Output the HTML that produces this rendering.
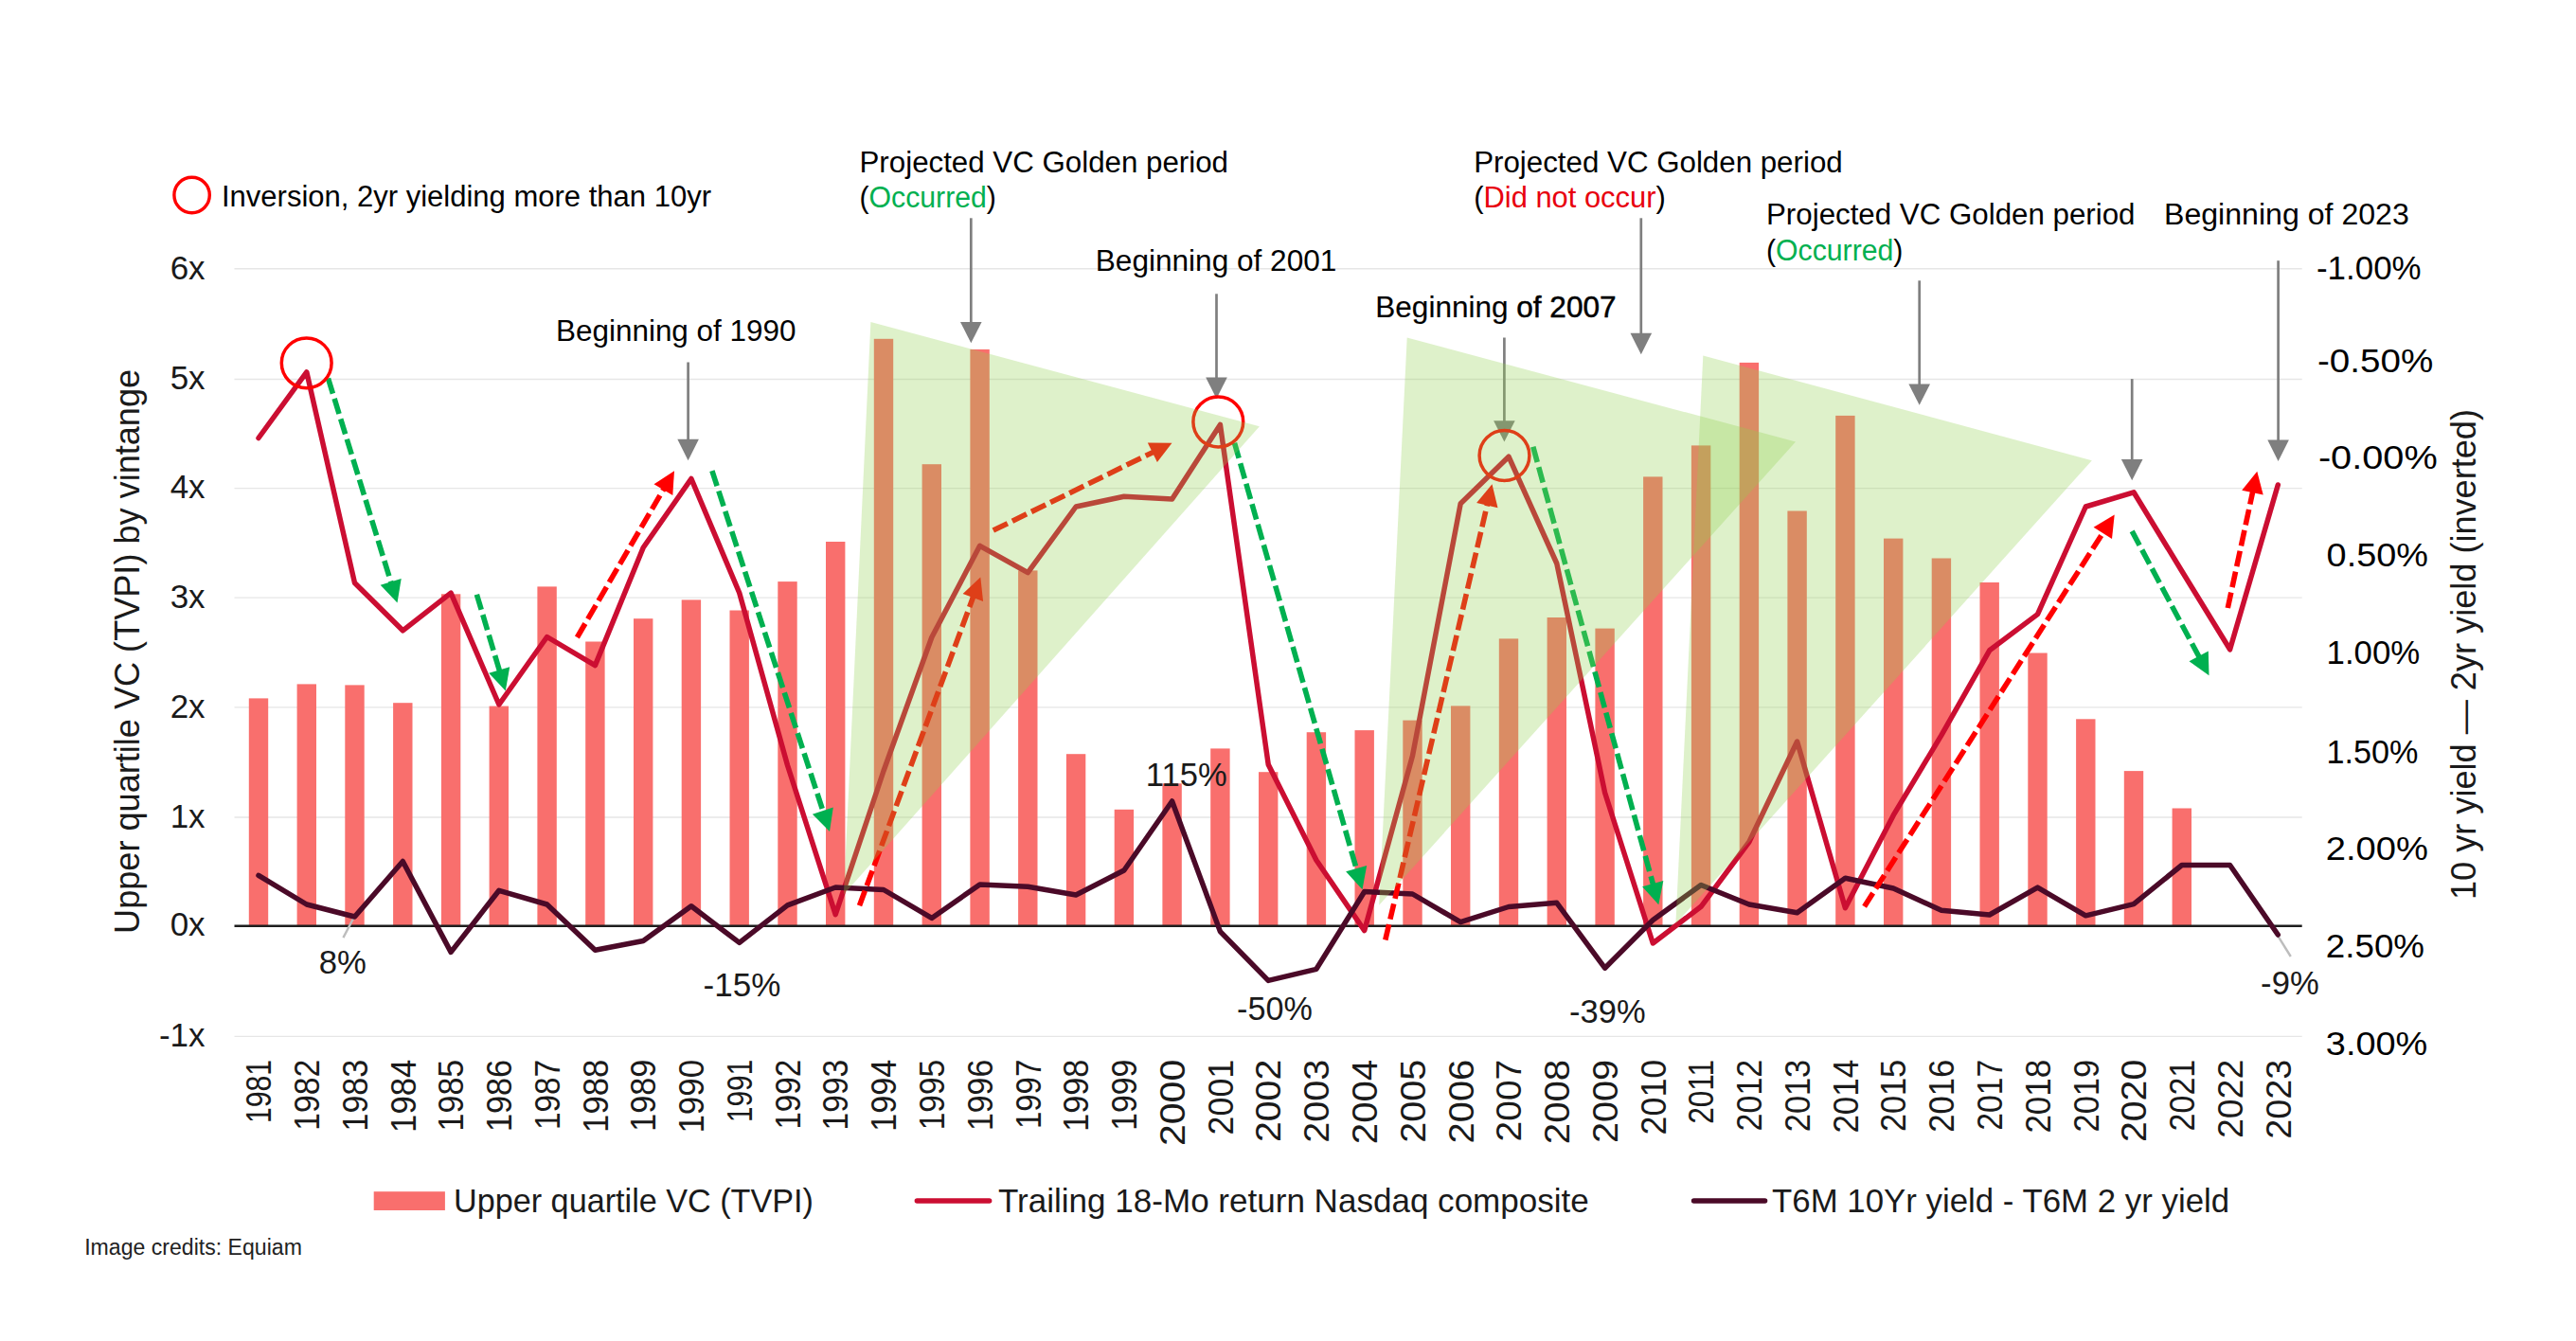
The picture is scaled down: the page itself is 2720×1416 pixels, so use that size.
<!DOCTYPE html>
<html lang="en"><head><meta charset="utf-8"><title>VC vintage returns vs yield curve</title>
<style>html,body{margin:0;padding:0;background:#fff}body{width:2720px;height:1416px;overflow:hidden}svg{display:block}text{font-family:"Liberation Sans",sans-serif}</style></head><body>
<svg width="2720" height="1416" viewBox="0 0 2720 1416">
<rect width="2720" height="1416" fill="#fff"/>
<g stroke="#E6E6E6" stroke-width="1.4"><line x1="247.5" y1="283.8" x2="2430.7" y2="283.8"/><line x1="247.5" y1="400.5" x2="2430.7" y2="400.5"/><line x1="247.5" y1="515.6" x2="2430.7" y2="515.6"/><line x1="247.5" y1="631.1" x2="2430.7" y2="631.1"/><line x1="247.5" y1="746.9" x2="2430.7" y2="746.9"/><line x1="247.5" y1="863" x2="2430.7" y2="863"/><line x1="247.5" y1="1094.4" x2="2430.7" y2="1094.4"/></g>
<g fill="#F96F6D"><rect x="262.8" y="737.4" width="20.4" height="240.3"/><rect x="313.6" y="722.4" width="20.4" height="255.3"/><rect x="364.3" y="723.4" width="20.4" height="254.3"/><rect x="415.1" y="742.2" width="20.4" height="235.5"/><rect x="465.9" y="627.3" width="20.4" height="350.4"/><rect x="516.6" y="745.6" width="20.4" height="232.1"/><rect x="567.4" y="619.4" width="20.4" height="358.3"/><rect x="618.2" y="677.5" width="20.4" height="300.2"/><rect x="669" y="653.2" width="20.4" height="324.5"/><rect x="719.7" y="633.4" width="20.4" height="344.3"/><rect x="770.5" y="644.5" width="20.4" height="333.2"/><rect x="821.3" y="614.1" width="20.4" height="363.6"/><rect x="872" y="572" width="20.4" height="405.7"/><rect x="922.8" y="357.8" width="20.4" height="619.9"/><rect x="973.6" y="490.2" width="20.4" height="487.5"/><rect x="1024.4" y="368.9" width="20.4" height="608.8"/><rect x="1075.1" y="602.4" width="20.4" height="375.3"/><rect x="1125.9" y="796.2" width="20.4" height="181.5"/><rect x="1176.7" y="854.8" width="20.4" height="122.9"/><rect x="1227.4" y="827.3" width="20.4" height="150.4"/><rect x="1278.2" y="790.4" width="20.4" height="187.3"/><rect x="1329" y="815.2" width="20.4" height="162.5"/><rect x="1379.7" y="773.2" width="20.4" height="204.5"/><rect x="1430.5" y="771.1" width="20.4" height="206.6"/><rect x="1481.3" y="760.6" width="20.4" height="217.1"/><rect x="1532" y="745.4" width="20.4" height="232.3"/><rect x="1582.8" y="674.4" width="20.4" height="303.3"/><rect x="1633.6" y="652" width="20.4" height="325.7"/><rect x="1684.4" y="663.6" width="20.4" height="314.1"/><rect x="1735.1" y="503.4" width="20.4" height="474.3"/><rect x="1785.9" y="470.4" width="20.4" height="507.3"/><rect x="1836.7" y="382.9" width="20.4" height="594.8"/><rect x="1887.4" y="539.5" width="20.4" height="438.2"/><rect x="1938.2" y="438.9" width="20.4" height="538.8"/><rect x="1989" y="568.6" width="20.4" height="409.1"/><rect x="2039.7" y="589.5" width="20.4" height="388.2"/><rect x="2090.5" y="615" width="20.4" height="362.7"/><rect x="2141.3" y="689.5" width="20.4" height="288.2"/><rect x="2192.1" y="759.3" width="20.4" height="218.4"/><rect x="2242.8" y="814.1" width="20.4" height="163.6"/><rect x="2293.6" y="853.5" width="20.4" height="124.2"/></g>
<line x1="247.5" y1="977.7" x2="2430.7" y2="977.7" stroke="#1E1E1E" stroke-width="2.4"/>
<polyline points="273,462.5 323.8,392.9 374.5,615.5 425.3,665.8 476.1,626.2 526.9,744 577.6,672.5 628.4,702.6 679.2,578.3 729.9,505.5 780.7,626 831.5,808 882.2,965.7 933,814 983.8,673 1034.6,576.3 1085.3,604.7 1136.1,535 1186.9,524.2 1237.6,527 1288.4,448.4 1339.2,807.2 1389.9,908.3 1440.7,982.6 1491.5,798 1542.2,531.8 1593,482.2 1643.8,595 1694.6,837 1745.3,996 1796.1,957.3 1846.9,889 1897.6,783 1948.4,958.8 1999.2,860.9 2049.9,776.4 2100.7,686.8 2151.5,648.6 2202.3,535 2253,519.8 2303.8,603 2354.6,685.8 2405.3,512" fill="none" stroke="#CB0E32" stroke-width="5.5" stroke-linejoin="round" stroke-linecap="round"/>
<g stroke="#BDBDBD" stroke-width="2.4"><line x1="374.6" y1="967" x2="362.4" y2="990.1"/><line x1="2405.6" y1="988.9" x2="2418.8" y2="1010"/></g>
<polyline points="273,924.3 323.8,955 374.5,968 425.3,909.5 476.1,1005.4 526.9,940.3 577.6,955 628.4,1003.3 679.2,993.5 729.9,956.8 780.7,995.4 831.5,955.8 882.2,937 933,939.5 983.8,969.4 1034.6,934 1085.3,936.3 1136.1,945 1186.9,919 1237.6,846 1288.4,983.6 1339.2,1035.4 1389.9,1023.3 1440.7,941.5 1491.5,944 1542.2,973.7 1593,957.5 1643.8,953.3 1694.6,1022.2 1745.3,971.5 1796.1,934.5 1846.9,955 1897.6,963.8 1948.4,927.3 1999.2,938 2049.9,961.2 2100.7,966 2151.5,937.1 2202.3,966.8 2253,954.6 2303.8,913.5 2354.6,913.5 2405.3,987" fill="none" stroke="#4B0A28" stroke-width="5.5" stroke-linejoin="round" stroke-linecap="round"/>
<line x1="346.5" y1="399.5" x2="413.3" y2="616.3" stroke="#00B050" stroke-width="5.6" stroke-dasharray="16.8 5.6"/><polygon points="419.5,636.4 401.7,617.8 423.7,611" fill="#00B050"/>
<line x1="503.4" y1="627.7" x2="527.8" y2="709.4" stroke="#00B050" stroke-width="5.6" stroke-dasharray="16.8 5.6"/><polygon points="533.8,729.5 516.2,710.8 538.2,704.2" fill="#00B050"/>
<line x1="751.9" y1="497.2" x2="869.5" y2="858" stroke="#00B050" stroke-width="5.6" stroke-dasharray="16.8 5.6"/><polygon points="876,878 857.9,859.7 879.8,852.6" fill="#00B050"/>
<line x1="1303.5" y1="467.7" x2="1432.7" y2="919" stroke="#00B050" stroke-width="5.6" stroke-dasharray="16.8 5.6"/><polygon points="1438.5,939.2 1421.1,920.3 1443.2,913.9" fill="#00B050"/>
<line x1="1618.8" y1="471.7" x2="1745.8" y2="935" stroke="#00B050" stroke-width="5.6" stroke-dasharray="16.8 5.6"/><polygon points="1751.3,955.3 1734.1,936.2 1756.3,930.1" fill="#00B050"/>
<line x1="2251.2" y1="560.9" x2="2322.6" y2="694.7" stroke="#00B050" stroke-width="5.6" stroke-dasharray="16.8 5.6"/><polygon points="2332.5,713.2 2311.5,698.3 2331.8,687.5" fill="#00B050"/>
<line x1="609.4" y1="673" x2="701.4" y2="515.3" stroke="#FF0000" stroke-width="5.6" stroke-dasharray="16.8 5.6"/><polygon points="712,497.2 710.3,522.9 690.5,511.3" fill="#FF0000"/>
<line x1="907.5" y1="956.2" x2="1028" y2="629.2" stroke="#FF0000" stroke-width="5.6" stroke-dasharray="16.8 5.6"/><polygon points="1035.3,609.5 1038.1,635.1 1016.6,627.1" fill="#FF0000"/>
<line x1="1048.8" y1="560.1" x2="1218.6" y2="476.9" stroke="#FF0000" stroke-width="5.6" stroke-dasharray="16.8 5.6"/><polygon points="1237.5,467.7 1221.9,488.1 1211.8,467.5" fill="#FF0000"/>
<line x1="1462.8" y1="992.5" x2="1570.7" y2="531.6" stroke="#FF0000" stroke-width="5.6" stroke-dasharray="16.8 5.6"/><polygon points="1575.5,511.2 1581.5,536.2 1559.1,531" fill="#FF0000"/>
<line x1="1968.6" y1="957.2" x2="2221.4" y2="561.2" stroke="#FF0000" stroke-width="5.6" stroke-dasharray="16.8 5.6"/><polygon points="2232.7,543.5 2230,569.1 2210.6,556.7" fill="#FF0000"/>
<line x1="2352.3" y1="642" x2="2378.9" y2="518.2" stroke="#FF0000" stroke-width="5.6" stroke-dasharray="16.8 5.6"/><polygon points="2383.3,497.7 2389.7,522.6 2367.2,517.8" fill="#FF0000"/>
<line x1="726.6" y1="382.5" x2="726.6" y2="466.2" stroke="#7F7F7F" stroke-width="2.7"/><polygon points="726.6,486.2 715.3,463.8 737.9,463.8" fill="#7F7F7F"/>
<line x1="1025.3" y1="230.3" x2="1025.3" y2="342.3" stroke="#7F7F7F" stroke-width="2.7"/><polygon points="1025.3,362.3 1014,339.9 1036.6,339.9" fill="#7F7F7F"/>
<line x1="1284.5" y1="310.3" x2="1284.5" y2="401" stroke="#7F7F7F" stroke-width="2.7"/><polygon points="1284.5,421 1273.2,398.6 1295.8,398.6" fill="#7F7F7F"/>
<line x1="1588.4" y1="356.5" x2="1588.4" y2="446.6" stroke="#7F7F7F" stroke-width="2.7"/><polygon points="1588.4,466.6 1577.1,444.2 1599.7,444.2" fill="#7F7F7F"/>
<line x1="1732.8" y1="230.3" x2="1732.8" y2="354.2" stroke="#7F7F7F" stroke-width="2.7"/><polygon points="1732.8,374.2 1721.5,351.8 1744.1,351.8" fill="#7F7F7F"/>
<line x1="2026.7" y1="296.3" x2="2026.7" y2="407.8" stroke="#7F7F7F" stroke-width="2.7"/><polygon points="2026.7,427.8 2015.4,405.4 2038,405.4" fill="#7F7F7F"/>
<line x1="2251.2" y1="400.1" x2="2251.2" y2="487.3" stroke="#7F7F7F" stroke-width="2.7"/><polygon points="2251.2,507.3 2239.9,484.9 2262.5,484.9" fill="#7F7F7F"/>
<line x1="2405.6" y1="275.2" x2="2405.6" y2="467" stroke="#7F7F7F" stroke-width="2.7"/><polygon points="2405.6,487 2394.3,464.6 2416.9,464.6" fill="#7F7F7F"/>
<circle cx="323.7" cy="383.3" r="26.4" fill="none" stroke="#FF0000" stroke-width="3.5"/><circle cx="1286.3" cy="445.5" r="26.4" fill="none" stroke="#FF0000" stroke-width="3.5"/><circle cx="1588.5" cy="481" r="26.4" fill="none" stroke="#FF0000" stroke-width="3.5"/>
<polygon points="919.4,339.9 1329.9,450.3 890.9,944.5" fill="#92D050" fill-opacity="0.3"/><polygon points="1485.7,356.5 1896,466.5 1456.2,955.8" fill="#92D050" fill-opacity="0.3"/><polygon points="1798.3,375.5 2208.8,486.2 1769.4,975.6" fill="#92D050" fill-opacity="0.3"/>
<circle cx="202.6" cy="206" r="18.7" fill="none" stroke="#FF0000" stroke-width="3.4"/>
<text x="234" y="218.4" font-size="31" fill="#000000" textLength="517" lengthAdjust="spacingAndGlyphs">Inversion, 2yr yielding more than 10yr</text>
<text x="587" y="360" font-size="31" fill="#000000" textLength="253.5" lengthAdjust="spacingAndGlyphs">Beginning of 1990</text>
<text x="1156.8" y="286.3" font-size="31" fill="#000000" textLength="254.5" lengthAdjust="spacingAndGlyphs">Beginning of 2001</text>
<text x="1452.3" y="335.4" font-size="31" fill="#000" stroke="#000" stroke-width="0.15" textLength="254.2" lengthAdjust="spacingAndGlyphs">Beginning <tspan stroke-width="0.5">of 2007</tspan></text>
<text x="2285" y="237.4" font-size="31" fill="#000000" textLength="258.8" lengthAdjust="spacingAndGlyphs">Beginning of 2023</text>
<text x="907.5" y="181.5" font-size="31" fill="#000000" textLength="389.5" lengthAdjust="spacingAndGlyphs">Projected VC Golden period</text><text x="907.5" y="218.7" font-size="31" fill="#000" textLength="144.4" lengthAdjust="spacingAndGlyphs">(<tspan fill="#00B050">Occurred</tspan>)</text>
<text x="1556.2" y="181.5" font-size="31" fill="#000000" textLength="389.5" lengthAdjust="spacingAndGlyphs">Projected VC Golden period</text><text x="1556.2" y="218.7" font-size="31" fill="#000" textLength="202.5" lengthAdjust="spacingAndGlyphs">(<tspan fill="#E8000E">Did not occur</tspan>)</text>
<text x="1865" y="237.4" font-size="31" fill="#000000" textLength="389.5" lengthAdjust="spacingAndGlyphs">Projected VC Golden period</text><text x="1865" y="274.6" font-size="31" fill="#000" textLength="144.4" lengthAdjust="spacingAndGlyphs">(<tspan fill="#00B050">Occurred</tspan>)</text>
<text x="336.8" y="1028" font-size="35" fill="#1A1A1A" textLength="50.2" lengthAdjust="spacingAndGlyphs">8%</text><text x="742.5" y="1052.2" font-size="35" fill="#1A1A1A" textLength="81.8" lengthAdjust="spacingAndGlyphs">-15%</text><text x="1209.8" y="830" font-size="35" fill="#1A1A1A" textLength="85.8" lengthAdjust="spacingAndGlyphs">115%</text><text x="1306.1" y="1077.4" font-size="35" fill="#1A1A1A" textLength="79.8" lengthAdjust="spacingAndGlyphs">-50%</text><text x="1657.1" y="1080" font-size="35" fill="#1A1A1A" textLength="80.5" lengthAdjust="spacingAndGlyphs">-39%</text><text x="2387.1" y="1049.6" font-size="35" fill="#1A1A1A" textLength="61.6" lengthAdjust="spacingAndGlyphs">-9%</text>
<text x="216.6" y="294.5" font-size="35" fill="#1A1A1A" text-anchor="end">6x</text><text x="216.6" y="411.2" font-size="35" fill="#1A1A1A" text-anchor="end">5x</text><text x="216.6" y="526.3" font-size="35" fill="#1A1A1A" text-anchor="end">4x</text><text x="216.6" y="641.8" font-size="35" fill="#1A1A1A" text-anchor="end">3x</text><text x="216.6" y="757.6" font-size="35" fill="#1A1A1A" text-anchor="end">2x</text><text x="216.6" y="873.7" font-size="35" fill="#1A1A1A" text-anchor="end">1x</text><text x="216.6" y="988.4" font-size="35" fill="#1A1A1A" text-anchor="end">0x</text><text x="216.6" y="1105.1" font-size="35" fill="#1A1A1A" text-anchor="end">-1x</text>
<text x="2446" y="295" font-size="35" fill="#000000" textLength="110.6" lengthAdjust="spacingAndGlyphs">-1.00%</text><text x="2447" y="392.7" font-size="35" fill="#000000" textLength="122.3" lengthAdjust="spacingAndGlyphs">-0.50%</text><text x="2447.9" y="495.4" font-size="35" fill="#000000" textLength="125.9" lengthAdjust="spacingAndGlyphs">-0.00%</text><text x="2456.6" y="597.9" font-size="35" fill="#000000" textLength="107.4" lengthAdjust="spacingAndGlyphs">0.50%</text><text x="2456.6" y="701.4" font-size="35" fill="#000000" textLength="98.7" lengthAdjust="spacingAndGlyphs">1.00%</text><text x="2456.6" y="806" font-size="35" fill="#000000" textLength="96.9" lengthAdjust="spacingAndGlyphs">1.50%</text><text x="2455.8" y="907.9" font-size="35" fill="#000000" textLength="108.2" lengthAdjust="spacingAndGlyphs">2.00%</text><text x="2455.8" y="1010.8" font-size="35" fill="#000000" textLength="104.2" lengthAdjust="spacingAndGlyphs">2.50%</text><text x="2455.8" y="1113.5" font-size="35" fill="#000000" textLength="107.5" lengthAdjust="spacingAndGlyphs">3.00%</text>
<text transform="translate(146.5,985.9) rotate(-90)" font-size="36" fill="#1A1A1A" textLength="596" lengthAdjust="spacingAndGlyphs">Upper quartile VC (TVPI) by vintange</text>
<text transform="translate(2614,950) rotate(-90)" font-size="36" fill="#1A1A1A" textLength="518" lengthAdjust="spacingAndGlyphs">10 yr yield — 2yr yield (inverted)</text>
<text transform="translate(286.2,1118.8) rotate(-90)" font-size="36" fill="#1A1A1A" text-anchor="end" textLength="67.3" lengthAdjust="spacingAndGlyphs">1981</text><text transform="translate(337,1118.8) rotate(-90)" font-size="36" fill="#1A1A1A" text-anchor="end" textLength="74.9" lengthAdjust="spacingAndGlyphs">1982</text><text transform="translate(387.7,1118.8) rotate(-90)" font-size="36" fill="#1A1A1A" text-anchor="end" textLength="75.7" lengthAdjust="spacingAndGlyphs">1983</text><text transform="translate(438.5,1118.8) rotate(-90)" font-size="36" fill="#1A1A1A" text-anchor="end" textLength="77.1" lengthAdjust="spacingAndGlyphs">1984</text><text transform="translate(489.3,1118.8) rotate(-90)" font-size="36" fill="#1A1A1A" text-anchor="end" textLength="75.6" lengthAdjust="spacingAndGlyphs">1985</text><text transform="translate(540.1,1118.8) rotate(-90)" font-size="36" fill="#1A1A1A" text-anchor="end" textLength="76.3" lengthAdjust="spacingAndGlyphs">1986</text><text transform="translate(590.8,1118.8) rotate(-90)" font-size="36" fill="#1A1A1A" text-anchor="end" textLength="74.3" lengthAdjust="spacingAndGlyphs">1987</text><text transform="translate(641.6,1118.8) rotate(-90)" font-size="36" fill="#1A1A1A" text-anchor="end" textLength="77.1" lengthAdjust="spacingAndGlyphs">1988</text><text transform="translate(692.4,1118.8) rotate(-90)" font-size="36" fill="#1A1A1A" text-anchor="end" textLength="76" lengthAdjust="spacingAndGlyphs">1989</text><text transform="translate(743.1,1118.8) rotate(-90)" font-size="36" fill="#1A1A1A" text-anchor="end" textLength="77.8" lengthAdjust="spacingAndGlyphs">1990</text><text transform="translate(793.9,1118.8) rotate(-90)" font-size="36" fill="#1A1A1A" text-anchor="end" textLength="66.2" lengthAdjust="spacingAndGlyphs">1991</text><text transform="translate(844.7,1118.8) rotate(-90)" font-size="36" fill="#1A1A1A" text-anchor="end" textLength="73.8" lengthAdjust="spacingAndGlyphs">1992</text><text transform="translate(895.4,1118.8) rotate(-90)" font-size="36" fill="#1A1A1A" text-anchor="end" textLength="74.6" lengthAdjust="spacingAndGlyphs">1993</text><text transform="translate(946.2,1118.8) rotate(-90)" font-size="36" fill="#1A1A1A" text-anchor="end" textLength="76" lengthAdjust="spacingAndGlyphs">1994</text><text transform="translate(997,1118.8) rotate(-90)" font-size="36" fill="#1A1A1A" text-anchor="end" textLength="74.5" lengthAdjust="spacingAndGlyphs">1995</text><text transform="translate(1047.8,1118.8) rotate(-90)" font-size="36" fill="#1A1A1A" text-anchor="end" textLength="75.2" lengthAdjust="spacingAndGlyphs">1996</text><text transform="translate(1098.5,1118.8) rotate(-90)" font-size="36" fill="#1A1A1A" text-anchor="end" textLength="73.2" lengthAdjust="spacingAndGlyphs">1997</text><text transform="translate(1149.3,1118.8) rotate(-90)" font-size="36" fill="#1A1A1A" text-anchor="end" textLength="76" lengthAdjust="spacingAndGlyphs">1998</text><text transform="translate(1200.1,1118.8) rotate(-90)" font-size="36" fill="#1A1A1A" text-anchor="end" textLength="74.9" lengthAdjust="spacingAndGlyphs">1999</text><text transform="translate(1250.8,1118.8) rotate(-90)" font-size="36" fill="#1A1A1A" text-anchor="end" textLength="91.2" lengthAdjust="spacingAndGlyphs">2000</text><text transform="translate(1301.6,1118.8) rotate(-90)" font-size="36" fill="#1A1A1A" text-anchor="end" textLength="79.6" lengthAdjust="spacingAndGlyphs">2001</text><text transform="translate(1352.4,1118.8) rotate(-90)" font-size="36" fill="#1A1A1A" text-anchor="end" textLength="87.2" lengthAdjust="spacingAndGlyphs">2002</text><text transform="translate(1403.1,1118.8) rotate(-90)" font-size="36" fill="#1A1A1A" text-anchor="end" textLength="88" lengthAdjust="spacingAndGlyphs">2003</text><text transform="translate(1453.9,1118.8) rotate(-90)" font-size="36" fill="#1A1A1A" text-anchor="end" textLength="89.4" lengthAdjust="spacingAndGlyphs">2004</text><text transform="translate(1504.7,1118.8) rotate(-90)" font-size="36" fill="#1A1A1A" text-anchor="end" textLength="87.9" lengthAdjust="spacingAndGlyphs">2005</text><text transform="translate(1555.5,1118.8) rotate(-90)" font-size="36" fill="#1A1A1A" text-anchor="end" textLength="88.6" lengthAdjust="spacingAndGlyphs">2006</text><text transform="translate(1606.2,1118.8) rotate(-90)" font-size="36" fill="#1A1A1A" text-anchor="end" textLength="86.6" lengthAdjust="spacingAndGlyphs">2007</text><text transform="translate(1657,1118.8) rotate(-90)" font-size="36" fill="#1A1A1A" text-anchor="end" textLength="89.4" lengthAdjust="spacingAndGlyphs">2008</text><text transform="translate(1707.8,1118.8) rotate(-90)" font-size="36" fill="#1A1A1A" text-anchor="end" textLength="88.3" lengthAdjust="spacingAndGlyphs">2009</text><text transform="translate(1758.5,1118.8) rotate(-90)" font-size="36" fill="#1A1A1A" text-anchor="end" textLength="79.6" lengthAdjust="spacingAndGlyphs">2010</text><text transform="translate(1809.3,1118.8) rotate(-90)" font-size="36" fill="#1A1A1A" text-anchor="end" textLength="68" lengthAdjust="spacingAndGlyphs">2011</text><text transform="translate(1860.1,1118.8) rotate(-90)" font-size="36" fill="#1A1A1A" text-anchor="end" textLength="75.6" lengthAdjust="spacingAndGlyphs">2012</text><text transform="translate(1910.8,1118.8) rotate(-90)" font-size="36" fill="#1A1A1A" text-anchor="end" textLength="76.4" lengthAdjust="spacingAndGlyphs">2013</text><text transform="translate(1961.6,1118.8) rotate(-90)" font-size="36" fill="#1A1A1A" text-anchor="end" textLength="77.8" lengthAdjust="spacingAndGlyphs">2014</text><text transform="translate(2012.4,1118.8) rotate(-90)" font-size="36" fill="#1A1A1A" text-anchor="end" textLength="76.3" lengthAdjust="spacingAndGlyphs">2015</text><text transform="translate(2063.1,1118.8) rotate(-90)" font-size="36" fill="#1A1A1A" text-anchor="end" textLength="77" lengthAdjust="spacingAndGlyphs">2016</text><text transform="translate(2113.9,1118.8) rotate(-90)" font-size="36" fill="#1A1A1A" text-anchor="end" textLength="75" lengthAdjust="spacingAndGlyphs">2017</text><text transform="translate(2164.7,1118.8) rotate(-90)" font-size="36" fill="#1A1A1A" text-anchor="end" textLength="77.8" lengthAdjust="spacingAndGlyphs">2018</text><text transform="translate(2215.5,1118.8) rotate(-90)" font-size="36" fill="#1A1A1A" text-anchor="end" textLength="76.7" lengthAdjust="spacingAndGlyphs">2019</text><text transform="translate(2266.2,1118.8) rotate(-90)" font-size="36" fill="#1A1A1A" text-anchor="end" textLength="87.2" lengthAdjust="spacingAndGlyphs">2020</text><text transform="translate(2317,1118.8) rotate(-90)" font-size="36" fill="#1A1A1A" text-anchor="end" textLength="75.6" lengthAdjust="spacingAndGlyphs">2021</text><text transform="translate(2367.8,1118.8) rotate(-90)" font-size="36" fill="#1A1A1A" text-anchor="end" textLength="83.2" lengthAdjust="spacingAndGlyphs">2022</text><text transform="translate(2418.5,1118.8) rotate(-90)" font-size="36" fill="#1A1A1A" text-anchor="end" textLength="84" lengthAdjust="spacingAndGlyphs">2023</text>
<rect x="394.7" y="1258.2" width="75.2" height="19.8" fill="#F96F6D"/><text x="479" y="1280" font-size="34.5" fill="#1A1A1A" textLength="380" lengthAdjust="spacingAndGlyphs">Upper quartile VC (TVPI)</text><line x1="968.4" y1="1268" x2="1044.6" y2="1268" stroke="#CB0E32" stroke-width="5.6" stroke-linecap="round"/><text x="1054" y="1280" font-size="34.5" fill="#1A1A1A" textLength="623.8" lengthAdjust="spacingAndGlyphs">Trailing 18-Mo return Nasdaq composite</text><line x1="1788.6" y1="1268" x2="1863.5" y2="1268" stroke="#4B0A28" stroke-width="5.6" stroke-linecap="round"/><text x="1871" y="1280" font-size="34.5" fill="#1A1A1A" textLength="483.1" lengthAdjust="spacingAndGlyphs">T6M 10Yr yield - T6M 2 yr yield</text>
<text x="89.2" y="1324.7" font-size="23" fill="#222" textLength="229.7" lengthAdjust="spacingAndGlyphs">Image credits: Equiam</text>
</svg>
</body></html>
